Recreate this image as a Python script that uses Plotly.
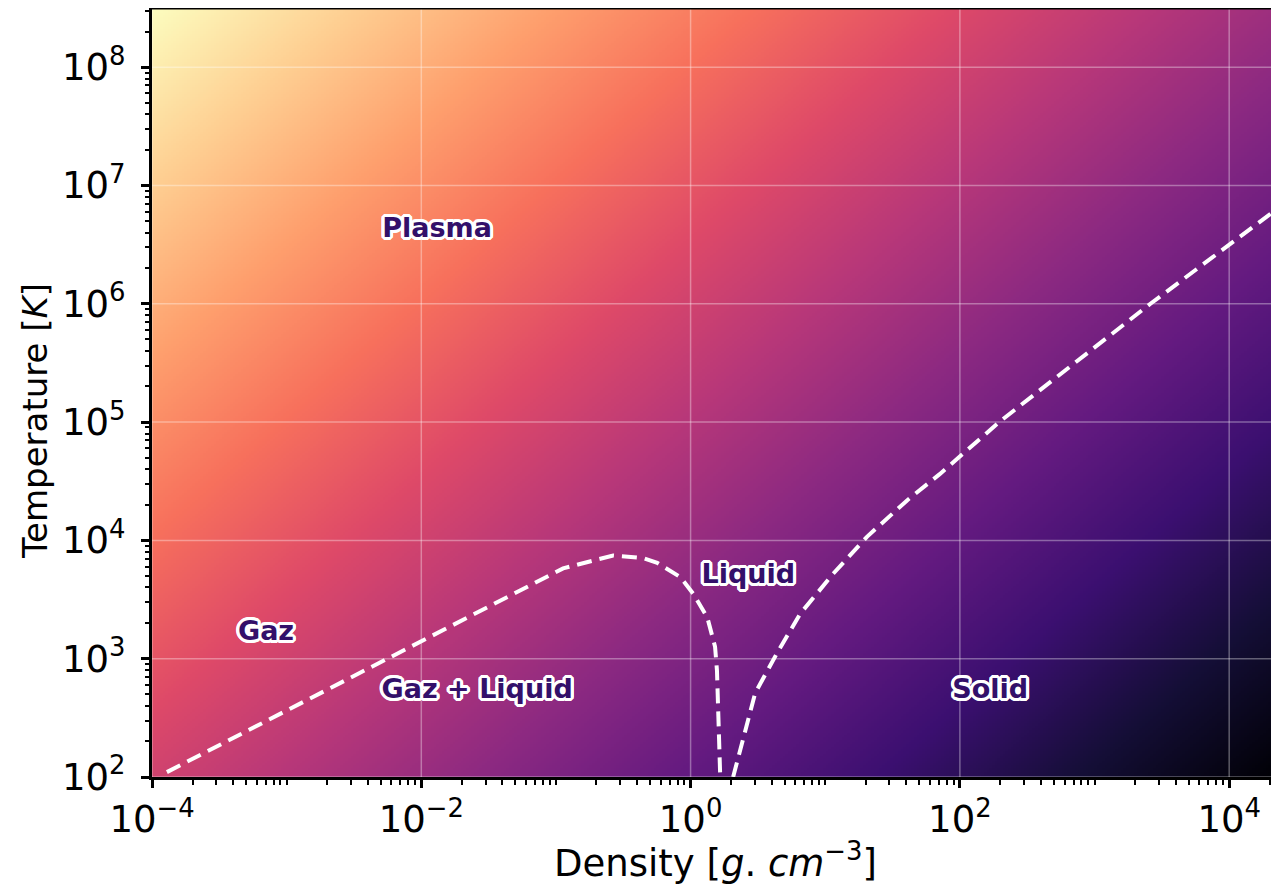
import numpy as np
import plotly.graph_objects as go

# ---- data ----
# axis ranges (log10)
x_range_log = [-4.0, 4.37]
y_range_log = [2.0, 8.5]

# Gaz / Liquid coexistence boundary (density g/cm3, temperature K)
gl_rho = [1.29e-4, 0.113, 0.266, 0.445, 0.565, 0.838, 1.045, 1.33, 1.52, 1.57, 1.66]
gl_T = [110, 5800, 7460, 7080, 6460, 4900, 3550, 2240, 1260, 794, 100]

# Solid boundary
sol_rho = [2.07, 2.51, 3.02, 4.40, 6.52, 11.5, 20.4, 40.7, 70.8, 200, 2600, 23230, 29000]
sol_T = [100, 234, 513, 1122, 2399, 5250, 10715, 21880, 36300, 102000, 1.0e6, 6.46e6, 7.7e6]

# region labels
label_text = ["Plasma", "Gaz", "Gaz + Liquid", "Liquid", "Solid"]
label_rho = [0.0131, 7.03e-4, 0.026, 2.68, 168]
label_T = [4.2e6, 1640, 532, 4970, 532]

# tick labels
x_tick_exp = [-4, -2, 0, 2, 4]
y_tick_exp = [2, 3, 4, 5, 6, 7, 8]

magma = [
    [0.0, "#000004"], [0.1, "#140e36"], [0.2, "#3b0f70"], [0.3, "#641a80"],
    [0.4, "#8c2981"], [0.5, "#b73779"], [0.6, "#de4968"], [0.7, "#f7705c"],
    [0.8, "#fe9f6d"], [0.9, "#fecf92"], [1.0, "#fcfdbf"],
]

# ---- background gradient (magma field, bright at low density / high temperature) ----
nx, ny = 420, 330
ex = np.linspace(x_range_log[0], x_range_log[1], nx + 1)
ey = np.linspace(y_range_log[0], y_range_log[1], ny + 1)
cx = 0.5 * (ex[:-1] + ex[1:])
cy = 0.5 * (ey[:-1] + ey[1:])
CX, CY = np.meshgrid(cx, cy)
field = CY - CX
zmin = y_range_log[0] - x_range_log[1]
zmax = y_range_log[1] - x_range_log[0]
Z = (field - zmin) / (zmax - zmin)

fig = go.Figure()
fig.add_trace(go.Heatmap(
    x=10 ** ex, y=10 ** ey, z=Z, colorscale=magma, zmin=0, zmax=1,
    showscale=False, hoverinfo="skip",
))

# grid lines (at major tick positions)
gx, gy = [], []
for e in x_tick_exp:
    gx += [10.0 ** e, 10.0 ** e, None]
    gy += [10 ** y_range_log[0], 10 ** y_range_log[1], None]
for e in y_tick_exp:
    gx += [10 ** x_range_log[0], 10 ** x_range_log[1], None]
    gy += [10.0 ** e, 10.0 ** e, None]
fig.add_trace(go.Scatter(x=gx, y=gy, mode="lines",
                         line=dict(color="rgba(255,255,255,0.35)", width=1.5),
                         hoverinfo="skip", showlegend=False))

dash_line = dict(color="white", width=4, dash="15px,8px")
fig.add_trace(go.Scatter(x=gl_rho, y=gl_T, mode="lines", line=dash_line,
                         showlegend=False, hoverinfo="skip"))
fig.add_trace(go.Scatter(x=sol_rho, y=sol_T, mode="lines", line=dash_line,
                         showlegend=False, hoverinfo="skip"))

offsets = []
for dx in range(-3, 4):
    for dy in range(-3, 4):
        if (dx or dy) and dx * dx + dy * dy <= 10:
            offsets.append((dx, dy))
outline = ", ".join(f"{dx}px {dy}px 0 white" for dx, dy in offsets)
fig.add_trace(go.Scatter(
    x=label_rho, y=label_T, mode="text", text=label_text,
    textposition="middle center",
    textfont=dict(family="DejaVu Sans", size=27, color="#33106a", weight="bold",
                  shadow=outline),
    showlegend=False, hoverinfo="skip",
))


def minor_vals(lo, hi, majors):
    vals = []
    for e in range(int(np.floor(lo)), int(np.ceil(hi)) + 1):
        for m in range(1, 10):
            v = m * 10.0 ** e
            if m == 1 and e in majors:
                continue
            if lo <= np.log10(v) <= hi:
                vals.append(v)
    return vals


tick_font = dict(family="DejaVu Sans", size=37, color="black")

fig.update_xaxes(
    type="log", range=x_range_log,
    tickmode="array", tickvals=[10.0 ** e for e in x_tick_exp],
    ticktext=[f"10<sup>{'−' if e < 0 else ''}{abs(e)}</sup>" for e in x_tick_exp],
    ticks="outside", ticklen=8, tickwidth=2.5, tickcolor="black",
    minor=dict(tickmode="array", tickvals=minor_vals(*x_range_log, x_tick_exp),
               ticks="outside", ticklen=4.5, tickwidth=1.5, tickcolor="black", showgrid=False),
    showgrid=False, zeroline=False,
    showline=True, linecolor="black", linewidth=3,
    tickfont=tick_font,
    title=dict(text="Density [<i>g</i>. <i>cm</i><sup>−3</sup>]",
               font=dict(family="DejaVu Sans", size=37, color="black"), standoff=12),
)
fig.update_yaxes(
    type="log", range=y_range_log,
    tickmode="array", tickvals=[10.0 ** e for e in y_tick_exp],
    ticktext=[f"10<sup>{e}</sup>" for e in y_tick_exp],
    ticks="outside", ticklen=8, tickwidth=2.5, tickcolor="black",
    ticklabelstandoff=8,
    minor=dict(tickmode="array", tickvals=minor_vals(*y_range_log, y_tick_exp),
               ticks="outside", ticklen=4.5, tickwidth=1.5, tickcolor="black", showgrid=False),
    showgrid=False, zeroline=False,
    showline=True, linecolor="black", linewidth=3,
    tickfont=tick_font,
)

# y-axis title (placed slightly below the axis centre, as in the reference)
fig.add_annotation(
    text="Temperature [<i>K</i>]", textangle=-90,
    xref="paper", yref="paper", x=0, y=0.463, xanchor="center", yanchor="middle",
    xshift=-117, showarrow=False,
    font=dict(family="DejaVu Sans", size=34, color="black"),
)

fig.add_shape(type="line", xref="x domain", yref="y domain", x0=0, x1=1, y0=1, y1=1,
              line=dict(color="black", width=3), layer="above")

fig.update_layout(
    width=1271, height=877,
    margin=dict(l=144, r=0, t=0, b=108),
    paper_bgcolor="white", plot_bgcolor="white",
    showlegend=False,
)

fig.write_html("out.html")
